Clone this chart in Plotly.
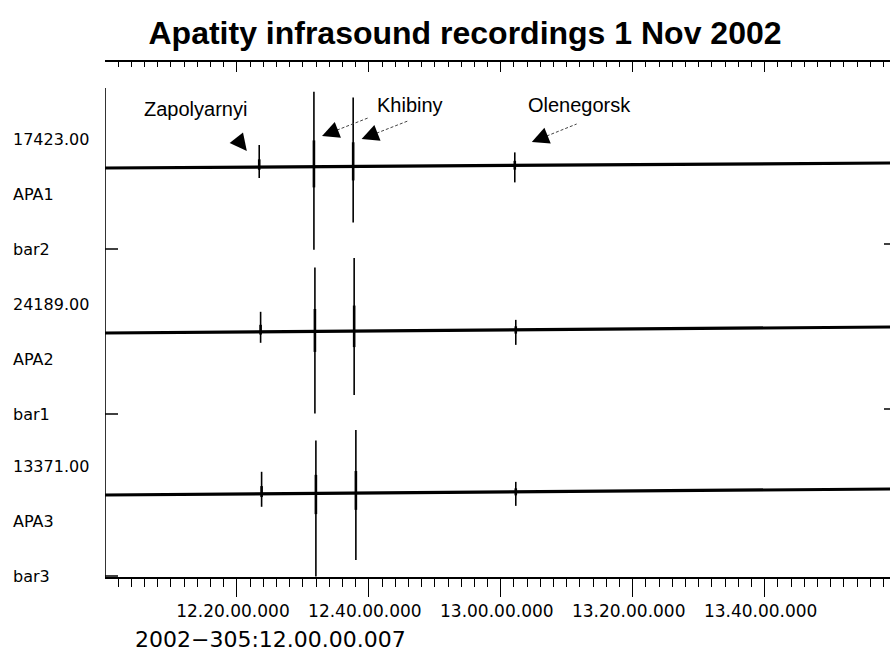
import math
import plotly.graph_objects as go

# Time axis: minutes after 2002-305 12:00:00.007
x_range = [0, 119]
label_minutes = [20, 40, 60, 80, 100]
label_text = ["12.20.00.000", "12.40.00.000", "13.00.00.000",
              "13.20.00.000", "13.40.00.000"]
minor_minutes = [m for m in range(2, 119, 2) if m % 20]

# Channels (display units: trace offset above the bottom axis)
channels = ["APA1", "APA2", "APA3"]
bar_names = ["bar2", "bar1", "bar3"]
max_counts = ["17423.00", "24189.00", "13371.00"]
baseline_start = [409, 244, 82]
baseline_end = [414, 250, 88]

# Arrivals (minutes) and peak deflections (display units) per channel
events = ["Zapolyarnyi", "Khibiny", "Khibiny", "Olenegorsk"]
arrival = [
    [23.38, 31.67, 37.62, 62.12],
    [23.59, 31.82, 37.77, 62.27],
    [23.74, 31.97, 38.03, 62.27],
]
peak_up = [
    [22, 75, 69, 13],
    [20, 64, 73, 10],
    [22, 53, 63, 10],
]
peak_down = [
    [11, 83, 56, 17],
    [11, 82, 64, 15],
    [13, 83, 67, 14],
]

# Event captions and arrow pointers (minutes, display units)
caption_text = ["Zapolyarnyi", "Khibiny", "Olenegorsk"]
caption_x = [13.7, 46.2, 72.0]
caption_y = [468, 472, 472]
pointer_tip_x = [21.5, 32.9, 38.9, 64.7]
pointer_tip_y = [426, 441, 438, 435]
pointer_tail_x = [None, 39.85, 45.9, 71.5]
pointer_tail_y = [None, 459, 456, 453]
pointer_dir = [(-11, -14), None, None, None]   # screen direction when no tail

axis_top = 489
y_range = [0, 515]

W, H = 890, 653
M_L, M_R, M_T, M_B = 105, 0, 62, 76
px_per_min = (W - M_L - M_R) / (x_range[1] - x_range[0])

LABEL_FONT = "DejaVu Sans"
TEXT_FONT = "Liberation Sans, Arial, sans-serif"


def base_at(i, t):
    s, e = baseline_start[i], baseline_end[i]
    return s + (e - s) * (t - x_range[0]) / (x_range[1] - x_range[0])


fig = go.Figure()

for i, ch in enumerate(channels):
    # background level of the channel
    fig.add_trace(go.Scatter(
        x=x_range, y=[baseline_start[i], baseline_end[i]], mode="lines",
        line=dict(color="black", width=3.2), hoverinfo="skip", showlegend=False,
        name=ch))
    # full-amplitude arrivals
    xs, ys, xc, yc = [], [], [], []
    for t, up, dn in zip(arrival[i], peak_up[i], peak_down[i]):
        b = base_at(i, t)
        xs += [t, t, None]
        ys += [b - dn, b + up, None]
        xc += [t, t, None]
        yc += [b - 0.25 * dn, b + 0.35 * up, None]
    fig.add_trace(go.Scatter(x=xs, y=ys, mode="lines",
                             line=dict(color="black", width=1.6),
                             hoverinfo="skip", showlegend=False))
    fig.add_trace(go.Scatter(x=xc, y=yc, mode="lines",
                             line=dict(color="black", width=2.6),
                             hoverinfo="skip", showlegend=False))

# carrier trace for the top time axis
fig.add_trace(go.Scatter(x=x_range, y=[None, None], xaxis="x2", yaxis="y",
                         mode="lines", showlegend=False, hoverinfo="skip"))

annotations = []
shapes = []

# channel labels on the left
for i, ch in enumerate(channels):
    for txt, off in ((max_counts[i], 29), (ch, -26), (bar_names[i], -81)):
        annotations.append(dict(
            text=txt, xref="paper", x=0, xshift=11 - M_L, xanchor="left",
            yref="y", y=baseline_start[i] + off, yanchor="middle",
            showarrow=False, font=dict(family=LABEL_FONT, size=16, color="black")))
    level = baseline_start[i] - 81
    shapes.append(dict(type="line", xref="x", xsizemode="pixel", xanchor=0,
                       x0=0, x1=13, yref="y", y0=level, y1=level,
                       line=dict(color="black", width=1.5)))
    if i < 2:
        shapes.append(dict(type="line", xref="x", xsizemode="pixel",
                           xanchor=x_range[1], x0=-6, x1=0, yref="y",
                           y0=level + 5, y1=level + 5,
                           line=dict(color="black", width=1.5)))

# left frame line
shapes.append(dict(type="line", xref="x", x0=0, x1=0, yref="y",
                   y0=0, y1=axis_top, line=dict(color="black", width=1.6)))

# event captions
for txt, cx, cy in zip(caption_text, caption_x, caption_y):
    annotations.append(dict(text=txt, x=cx, y=cy, xref="x", yref="y",
                            showarrow=False,
                            font=dict(family=TEXT_FONT, size=20, color="black")))

# pointers: filled head plus dashed leader
HEAD = 18
for tx, ty, lx, ly, d in zip(pointer_tip_x, pointer_tip_y, pointer_tail_x,
                            pointer_tail_y, pointer_dir):
    if lx is not None:
        dx = (lx - tx) * px_per_min
        dy = -(ly - ty)
    else:
        dx, dy = d
    n = math.hypot(dx, dy)
    ux, uy = dx / n, dy / n
    annotations.append(dict(
        x=tx, y=ty, xref="x", yref="y", text="", showarrow=True,
        ax=ux * HEAD, ay=uy * HEAD, arrowhead=2, arrowsize=3.4,
        arrowwidth=1, arrowcolor="black", standoff=0))
    if lx is not None:
        sx = tx + ux * (HEAD - 2) / px_per_min
        sy = ty - uy * (HEAD - 2)
        shapes.append(dict(type="line", xref="x", yref="y", x0=sx, y0=sy,
                           x1=lx, y1=ly,
                           line=dict(color="#444", width=1, dash="3px,2px")))

# date stamp of the window start
annotations.append(dict(
    text="2002\u2212305:12.00.00.007", xref="paper", yref="paper",
    x=(270 - M_L) / (W - M_L - M_R), y=-(639 - (H - M_B)) / (H - M_T - M_B),
    xanchor="center", yanchor="middle", showarrow=False,
    font=dict(family=LABEL_FONT, size=22, color="black")))

fig.update_layout(
    width=W, height=H,
    margin=dict(l=M_L, r=M_R, t=M_T, b=M_B),
    paper_bgcolor="white", plot_bgcolor="white",
    title=dict(text="<b>Apatity infrasound recordings 1 Nov 2002</b>",
               x=465 / W, xanchor="center", y=1 - 33 / H, yanchor="middle",
               font=dict(family=TEXT_FONT, size=32, color="black")),
    xaxis=dict(range=x_range, showgrid=False, zeroline=False,
               showline=True, linecolor="black", linewidth=1.6,
               ticks="outside", tickvals=label_minutes, ticktext=label_text,
               ticklen=18, tickwidth=1.3, tickcolor="black",
               ticklabelshift=-4,
               tickfont=dict(family=LABEL_FONT, size=17, color="black"),
               minor=dict(tickvals=minor_minutes, ticks="outside", ticklen=8,
                          tickwidth=1.3, tickcolor="black", showgrid=False)),
    xaxis2=dict(range=x_range, overlaying="x", side="top", anchor="y",
                showgrid=False, zeroline=False, showline=True,
                linecolor="black", linewidth=1.6, ticks="inside",
                tickvals=label_minutes, ticklen=10, tickwidth=1.3,
                tickcolor="black", showticklabels=False,
                minor=dict(tickvals=minor_minutes, ticks="inside", ticklen=5,
                           tickwidth=1.3, tickcolor="black", showgrid=False)),
    yaxis=dict(range=y_range, visible=False, fixedrange=True),
    annotations=annotations, shapes=shapes, showlegend=False,
)

fig.write_html("out.html")
